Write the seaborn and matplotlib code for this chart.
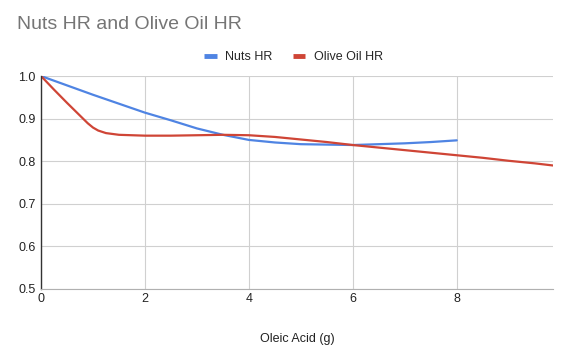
import matplotlib.pyplot as plt
import numpy as np
import pandas as pd
import seaborn as sns

sns.set_style('white')
plt.rcParams['font.family'] = ['Liberation Sans', 'DejaVu Sans']

# values
nuts_x = [0, 0.5, 1, 1.5, 2, 2.5, 3, 3.5, 4, 4.5, 5, 5.5, 6, 6.5, 7, 7.5, 8]
nuts_hr = [1.0, 0.978, 0.956, 0.935, 0.914, 0.896, 0.877, 0.862, 0.850,
           0.844, 0.840, 0.839, 0.838, 0.840, 0.842, 0.845, 0.849]

olive_x = [0, 0.25, 0.5, 0.75, 0.9, 1.0, 1.1, 1.25, 1.5, 2, 2.5, 3, 3.5, 4,
           4.5, 5, 5.5, 6, 6.5, 7, 7.5, 8, 8.5, 9, 9.5, 9.85]
olive_hr = [1.0, 0.968, 0.937, 0.907, 0.889, 0.879, 0.872, 0.866, 0.862,
            0.860, 0.860, 0.861, 0.862, 0.861, 0.857, 0.851, 0.845, 0.838,
            0.832, 0.826, 0.820, 0.814, 0.808, 0.801, 0.795, 0.790]

blue = '#4f84e3'
red = '#cf4536'

fig = plt.figure(figsize=(5.7, 3.52), dpi=100)
ax = fig.add_axes([0.072, 0.179, 0.898, 0.605])

sns.lineplot(x=nuts_x, y=nuts_hr, ax=ax, color=blue, linewidth=1.6, label='Nuts HR')
sns.lineplot(x=olive_x, y=olive_hr, ax=ax, color=red, linewidth=1.6, label='Olive Oil HR')

ax.set_xlim(0, 9.85)
ax.set_ylim(0.5, 1.0)
ax.set_xticks([0, 2, 4, 6, 8])
ax.set_yticks([0.5, 0.6, 0.7, 0.8, 0.9, 1.0])
ax.set_yticklabels(['0.5', '0.6', '0.7', '0.8', '0.9', '1.0'])
ax.tick_params(axis='both', length=0, labelsize=9, colors='#222222')
ax.tick_params(axis='x', pad=3)
ax.tick_params(axis='y', pad=4)

ax.grid(True, color='#d0d0d0', linewidth=0.8)
ax.set_axisbelow(True)
for side in ['top', 'right']:
    ax.spines[side].set_visible(False)
ax.spines['left'].set_color('#333333')
ax.spines['left'].set_linewidth(1.0)
ax.spines['bottom'].set_color('#b0b0b0')
ax.spines['bottom'].set_linewidth(0.8)

ax.set_xlabel('Oleic Acid (g)', fontsize=9, color='#222222', labelpad=20)
ax.set_ylabel('')

handles, labels = ax.get_legend_handles_labels()
ax.legend_.remove()
leg = fig.legend(handles, labels, loc='center', bbox_to_anchor=(0.515, 0.838), ncol=2,
                 frameon=False, fontsize=9, handlelength=1.0, handletextpad=0.7,
                 columnspacing=1.6)
for h in leg.legend_handles:
    h.set_linewidth(3.5)
    h.set_solid_capstyle('butt')

fig.text(0.03, 0.93, 'Nuts HR and Olive Oil HR', fontsize=14, color='#757575',
         ha='left', va='center')

fig.savefig('out.png', dpi=100)
